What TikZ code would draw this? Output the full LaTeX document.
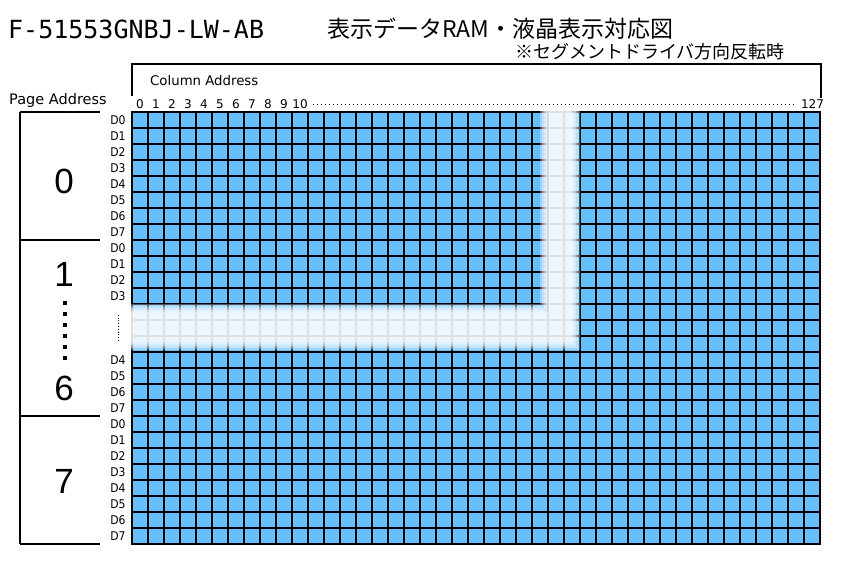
\documentclass[tikz,border=0pt]{standalone}
\usepackage{fontspec}
\setmainfont{DejaVu Sans}
\newfontfamily\jpfont{Noto Sans CJK JP}
\newfontfamily\condfont{DejaVu Sans Condensed}
\newfontfamily\modelfont{DejaVu Sans Mono}
\newfontfamily\pagefont{Liberation Sans}
\definecolor{cellblue}{RGB}{102,192,255}

\begin{document}
\begin{tikzpicture}[x=1pt,
            y=-1pt,
            bracket/.style={line width=2.4pt},
            gridline/.style={line width=2.8pt,black},
            bitlabel/.style={font=\condfont\fontsize{12}{12}\selectfont,inner sep=0pt},
            colnum/.style={font=\fontsize{12}{12}\selectfont,inner sep=0pt},
            pagenum/.style={font=\pagefont\fontsize{35}{35}\selectfont,inner sep=0pt},
            pagedot/.style={fill=black,inner sep=0pt,minimum size=3.6pt}]

        \useasboundingbox (0,0) rectangle (845,571);

        \node[anchor=west,inner sep=0pt,font=\modelfont\fontsize{25}{25}\selectfont] (model) at (8,29) {F-51553GNBJ-LW-AB};
        \node[anchor=west,inner sep=0pt,font=\jpfont\fontsize{23}{23}\selectfont]    (title) at (327,29) {表示データRAM・液晶表示対応図};
        \node[anchor=west,inner sep=0pt,font=\jpfont\fontsize{18}{18}\selectfont]    (note)  at (515,52) {※セグメントドライバ方向反転時};

        % column address bracket
        \coordinate (colL) at (132,96);
        \coordinate (colR) at (821,98);
        \draw[bracket] (colL) |- (821,64) -- (colR);
        \node[anchor=west,inner sep=0pt,font=\fontsize{13.3}{13.3}\selectfont] (coltext) at (150,81) {Column Address};

        \foreach \c in {0,...,10}
            \node[colnum] (col\c) at (140+16*\c,104.5) {\c};
        \node[colnum] (col127) at (812.5,104.5) {127};
        \draw[line width=1.2pt,dash pattern=on 1pt off 3pt,shorten <=5pt,shorten >=5pt] (col10.east) -- (col127.west);

        % page address bracket
        \node[anchor=west,inner sep=0pt,font=\fontsize{14.5}{14.5}\selectfont] (pagetext) at (9,100) {Page Address};
        \coordinate (pgtop) at (20,112);
        \coordinate (pgbot) at (20,544);
        \draw[bracket] (pgtop) -- (pgbot);
        \foreach \y in {112,240,416,544}
            \draw[bracket] (20,\y) -- (100,\y);

        \node[pagenum] (page0) at (64,181) {0};
        \node[pagenum] (page1) at (64,274) {1};
        \node[pagenum] (page6) at (64,388) {6};
        \node[pagenum] (page7) at (64,481) {7};
        \foreach \i in {0,...,5}
            \node[pagedot] (pd\i) at (65,303+11*\i) {};

        % bit labels
        \foreach \r in {0,...,7} {
            \node[bitlabel] (bitA\r) at (118,120+16*\r) {D\r};
            \node[bitlabel] (bitD\r) at (118,424+16*\r) {D\r};
        }
        \foreach \r in {0,...,3}
            \node[bitlabel] (bitB\r) at (118,248+16*\r) {D\r};
        \foreach \r in {4,...,7}
            \node[bitlabel] (bitC\r) at (118,296+16*\r) {D\r};
        \draw[line width=0.8pt,dotted,shorten <=14pt,shorten >=14pt] (bitB3.south) -- (bitC4.north);

        % RAM grid
        \fill[cellblue] (132,112) rectangle (820,544);
        \foreach \c in {0,...,43}
            \draw[gridline] (132+16*\c,112) -- ++(0,432);
        \foreach \r in {0,...,27}
            \draw[gridline] (132,112+16*\r) -- ++(688,0);
        \draw[gridline] (132,112) rectangle (820,544);

        % faded band
        \foreach \e in {8,6,4,2,0}
            \fill[white,fill opacity=0.35] (128,312-\e) rectangle (572+\e,342+\e)
                                           (548-\e,108) rectangle (572+\e,342+\e);

    \end{tikzpicture}
\end{document}
